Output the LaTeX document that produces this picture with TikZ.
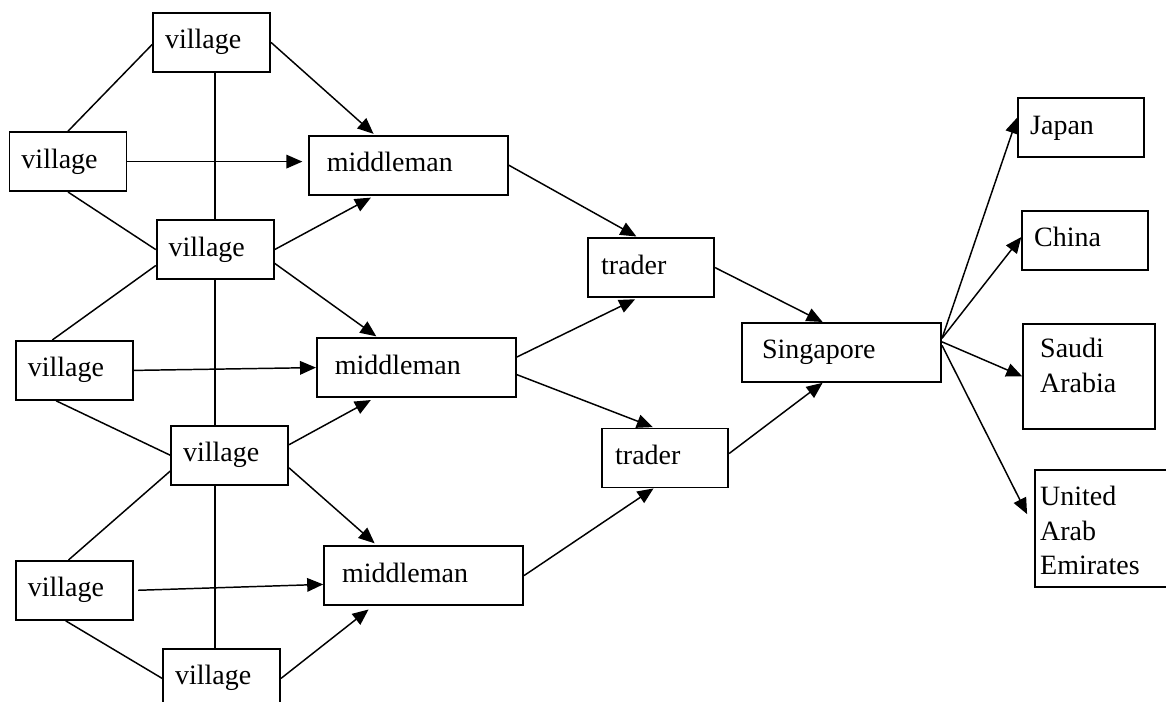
\documentclass[tikz,border=0pt]{standalone}
\usepackage{fontspec}
\setmainfont{Liberation Serif}
\usetikzlibrary{arrows.meta}

\begin{document}
\begin{tikzpicture}[
    box/.style={rectangle, draw, line width=1.3pt, align=left, inner ysep=0pt,
        minimum height=1.475cm, text height=0.475cm, text depth=0.15cm,
        font=\fontsize{19.9}{24.4}\selectfont},
    village/.style={box, inner xsep=0.3cm, text width=2.325cm},
    midbox/.style={box, inner xsep=0.45cm, text width=4.075cm},
    trader/.style={box, inner xsep=0.325cm, text width=2.5cm},
    hub/.style={box, inner xsep=0.5cm, text width=3.975cm},
    country/.style={box, inner xsep=0.3cm, text width=2.55cm},
    link/.style={line width=1.05pt},
    arrow/.style={-{Triangle[length=4mm,width=3.4mm]}, line width=1.05pt}
]
\useasboundingbox (0,0) rectangle (29.15,-17.55);

% Villages
\node[village] (v1) at (5.29,-1.06) {village};
\node[village] (v2) at (1.70,-4.04) {village};
\node[village] (v3) at (5.38,-6.24) {village};
\node[village] (v4) at (1.86,-9.26) {village};
\node[village] (v5) at (5.74,-11.38) {village};
\node[village] (v6) at (1.86,-14.76) {village};
\node[village] (v7) at (5.54,-16.96) {village};

% Middlemen
\node[midbox] (m1) at (10.21,-4.13) {middleman};
\node[midbox] (m2) at (10.41,-9.19) {middleman};
\node[midbox] (m3) at (10.59,-14.39) {middleman};

% Traders
\node[trader] (t1) at (16.28,-6.69) {trader};
\node[trader] (t2) at (16.63,-11.45) {trader};

% Hub
\node[hub] (sing) at (21.04,-8.81) {Singapore};

% Destinations
\node[country] (japan) at (27.03,-3.19) {Japan};
\node[country] (china) at (27.13,-6.01) {China};
\node[country, inner xsep=0.425cm, text width=2.45cm, minimum height=2.625cm,
    text height=0.85cm, text depth=1.775cm] (saudi) at (27.23,-9.41) {Saudi\\Arabia};
\node[country, inner xsep=0.125cm, text width=3.25cm, minimum height=2.925cm,
    text height=0.9cm, text depth=2.025cm] (uae) at (27.63,-13.21) {United\\Arab\\Emirates};

% Links between villages
\draw[link] (v1.182) -- (v2.north);
\draw[link] (v3.north |- v1.south) -- (v3.north);
\draw[link] (v3.south) -- (v3.south |- v5.north);
\draw[link] (v5.south -| v3.south) -- (v7.north -| v3.south);
\draw[link] (v2.south) -- (v3.west);
\draw[link] (v3.195) -- (v4.126);
\draw[link] (v4.239) -- (v5.west);
\draw[link] (v5.195) -- (v6.101);
\draw[link] (v6.254) -- (v7.west);

% Villages to middlemen
\draw[arrow, shorten >=1pt] (v1.east) -- (m1.138);
\draw[arrow, shorten >=4pt] (v2) -- (v2 -| m1.west);
\draw[arrow, shorten >=3pt] (v3.east) -- (m1.222);
\draw[arrow, shorten >=1pt] (v3.347) -- (m2.142);
\draw[arrow] (v4.east) -- (m2.west);
\draw[arrow, shorten >=3pt] (v5.10) -- (m2.216);
\draw[arrow, shorten >=2pt] (v5.348) -- (m3.147);
\draw[arrow, shorten <=3pt] (v6.east) -- (m3.185);
\draw[arrow, shorten >=4pt] (v7.east) -- (m3.211);

% Middlemen to traders
\draw[arrow, shorten >=1pt] (m1.east) -- (t1.114);
\draw[arrow, shorten >=2pt] (m2.6) -- (t1.246);
\draw[arrow, shorten >=1pt] (m2.356) -- (t2.110);
\draw[arrow] (m3.east) -- (t2.249);

% Traders to Singapore
\draw[arrow] (t1.east) -- (sing.122);
\draw[arrow] (t2.4) -- (sing.238);

% Singapore to destinations
\draw[arrow] (sing.8) -- (japan.171);
\draw[arrow] (sing.8) -- (china.177);
\draw[arrow] (sing.6) -- (saudi.west);
\draw[arrow, shorten >=0.4cm] (sing.4) -- (uae.west);

\end{tikzpicture}
\end{document}
